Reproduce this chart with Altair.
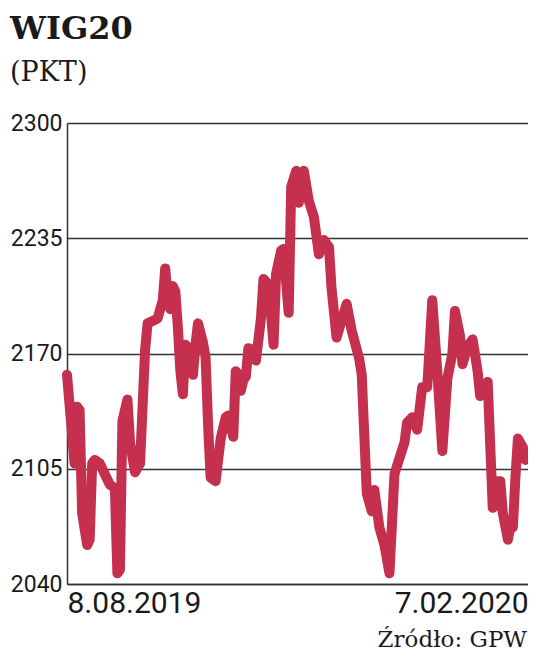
import altair as alt
import pandas as pd

# Calendar-day offset from 8.08.2019 and WIG20 close (points)
days = [0, 2, 3, 4, 5, 6, 8, 9, 10, 11, 13, 15, 17, 19, 20, 21, 22, 24, 25, 27,
        29, 30, 31, 32, 35, 36, 38, 39, 40, 41, 42, 43, 44, 45, 46, 47, 49, 50, 51, 52,
        54, 55, 56, 57, 59, 60, 61, 63, 64, 66, 67, 68, 69, 70, 71, 72, 74, 75, 77, 78,
        80, 82, 83, 85, 86, 87, 88, 89, 91, 92, 94, 96, 98, 100, 102, 104, 105, 107, 111, 113,
        116, 117, 119, 121, 122, 124, 126, 128, 130, 132, 134, 135, 137, 139, 141, 143, 145, 147, 149, 151,
        153, 154, 156, 157, 159, 161, 163, 164, 166, 167, 169, 170, 172, 173, 175, 176, 177, 178, 179, 181,
        182]
values = [2158, 2125, 2108, 2140, 2138, 2080, 2062, 2065, 2108, 2110, 2108, 2102, 2096, 2094, 2046, 2048, 2132, 2144, 2120, 2103,
          2108, 2140, 2172, 2187, 2189, 2190, 2200, 2218, 2200, 2195, 2208, 2205, 2185, 2160, 2147, 2175, 2172, 2158, 2175, 2187,
          2176, 2168, 2130, 2100, 2098, 2110, 2122, 2134, 2135, 2123, 2160, 2158, 2149, 2155, 2157, 2173, 2172, 2166, 2190, 2212,
          2209, 2175, 2215, 2228, 2229, 2210, 2193, 2264, 2273, 2255, 2273, 2256, 2247, 2226, 2234, 2230, 2207, 2179, 2198, 2183,
          2167, 2158, 2091, 2081, 2093, 2072, 2062, 2046, 2102, 2111, 2120, 2131, 2134, 2127, 2151, 2151, 2200, 2160, 2115, 2156,
          2170, 2194, 2180, 2164, 2174, 2178, 2160, 2146, 2150, 2154, 2083, 2098, 2098, 2080, 2065, 2072, 2072, 2100, 2122, 2117,
          2110]

y_ticks = [2040, 2105, 2170, 2235, 2300]
x_ticks = [0, 183]
x_tick_labels = ["8.08.2019", "7.02.2020"]

title_text = "WIG20"
unit_text = "(PKT)"
source_text = "Źródło: GPW"

df = pd.DataFrame({"day": days, "value": values})

label_expr = f"datum.value == {x_ticks[0]} ? '{x_tick_labels[0]}' : '{x_tick_labels[1]}'"
num_font = "Roboto"
serif = "DejaVu Serif"

line = alt.Chart(df).mark_line(
    color="#c5304f", strokeWidth=10, strokeCap="round", strokeJoin="round"
).encode(
    x=alt.X("day:Q", scale=alt.Scale(domain=[x_ticks[0], x_ticks[1]], nice=False, zero=False),
            axis=alt.Axis(values=x_ticks, labelExpr=label_expr, title=None, ticks=False, grid=False,
                          labelFlush=True, labelFont=num_font, labelFontSize=30, labelColor="#1a1a1a",
                          labelPadding=4, domainColor="#333333", domainWidth=1.5)),
    y=alt.Y("value:Q", scale=alt.Scale(domain=[y_ticks[0], y_ticks[-1]], nice=False, zero=False),
            axis=alt.Axis(values=y_ticks, title=None, ticks=False, grid=True, gridColor="#333333",
                          gridWidth=1.5, gridOpacity=1, labelFont=num_font, labelFontSize=23,
                          labelColor="#1a1a1a", labelPadding=5, domainColor="#333333", domainWidth=1.5,
                          format="d")),
)

one = pd.DataFrame({"k": [0]})
title = alt.Chart(one).mark_text(
    font=serif, fontWeight="bold", fontSize=32, align="left", baseline="alphabetic", color="#1a1a1a"
).encode(x=alt.value(-57), y=alt.value(-84), text=alt.value(title_text))
unit = alt.Chart(one).mark_text(
    font=serif, fontSize=27, align="left", baseline="alphabetic", color="#1a1a1a"
).encode(x=alt.value(-57), y=alt.value(-42), text=alt.value(unit_text))
source = alt.Chart(one).mark_text(
    font=serif, fontSize=23, align="right", baseline="alphabetic", color="#1a1a1a"
).encode(x=alt.value(460), y=alt.value(524), text=alt.value(source_text))

chart = alt.layer(line, title, unit, source).properties(
    width=461, height=461,
    autosize=alt.AutoSizeParams(type="none"),
    padding={"left": 59, "top": 115, "right": 0, "bottom": 70},
).configure_view(stroke=None).configure(background="white")

chart.save("out.html", embed_options={"renderer": "svg", "actions": False})
